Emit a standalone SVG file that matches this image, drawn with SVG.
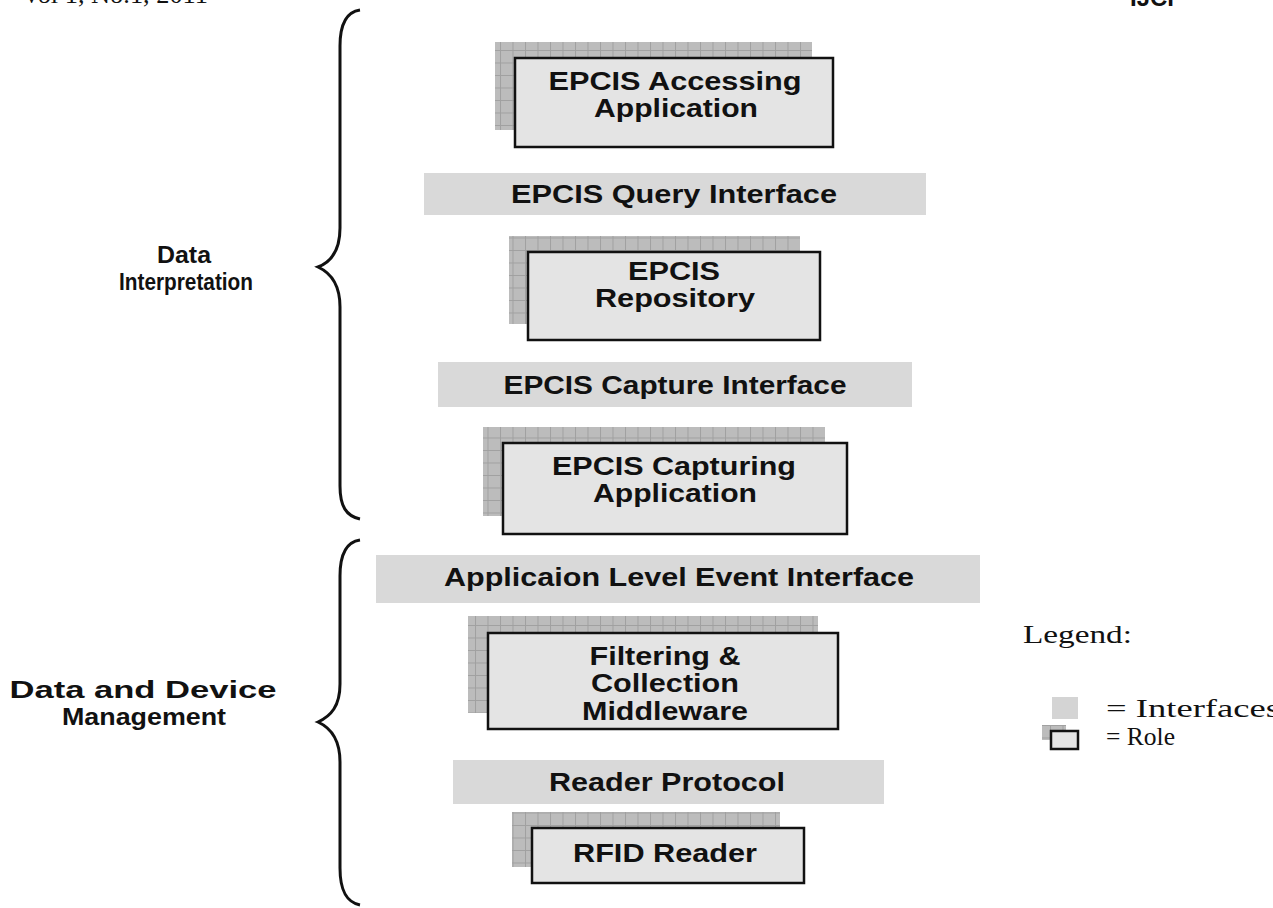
<svg xmlns="http://www.w3.org/2000/svg" width="1273" height="908" viewBox="0 0 1273 908">
<style>
.lbl{font-family:"Liberation Sans",Arial,sans-serif;font-weight:bold;font-size:25px;fill:#111;text-anchor:middle}
.side{font-family:"Liberation Sans",Arial,sans-serif;font-weight:bold;font-size:24px;fill:#111;text-anchor:middle}
.serif{font-family:"Liberation Serif","Times New Roman",serif;font-size:26px;fill:#111}
.iface{fill:#d9d9d9}
.front{fill:#e4e4e4;stroke:#111;stroke-width:2.5}
.shadow{fill:url(#grid)}
.brace{fill:none;stroke:#111;stroke-width:3}
</style>
<defs>
<pattern id="grid" width="12.5" height="12.5" patternUnits="userSpaceOnUse">
<rect width="12.5" height="12.5" fill="#bcbcbc"/>
<path d="M0,0.5 H12.5 M0.5,0 V12.5" stroke="#a0a0a0" stroke-width="1"/>
</pattern>
</defs>
<rect width="1273" height="908" fill="#fff"/>
<text class="serif" x="22" y="3" textLength="186" lengthAdjust="spacingAndGlyphs">Vol 1, No.1, 2011</text>
<text x="1130" y="6" style="font-family:'Liberation Sans',Arial,sans-serif;font-weight:bold;font-size:24px;fill:#111">IJCI</text>

<g id="braces">
<path class="brace" d="M360,10 C346,12 340,26 340,46 L340,228 C340,250 331,262 318,267 C331,273 340,285 340,307 L340,486 C340,506 346,516 360,519"/>
<path class="brace" d="M360,540 C346,542 340,556 340,576 L340,684 C340,706 331,716 318,722 C331,728 340,740 340,762 L340,868 C340,890 346,902 360,905"/>
</g>

<g id="label-data-interpretation">
<text class="side" x="184" y="263" textLength="54" lengthAdjust="spacingAndGlyphs">Data</text>
<text class="side" x="186" y="290" textLength="134" lengthAdjust="spacingAndGlyphs">Interpretation</text>
</g>
<g id="label-data-device">
<text class="side" x="143" y="698" textLength="267" lengthAdjust="spacingAndGlyphs">Data and Device</text>
<text class="side" x="144" y="725" textLength="164" lengthAdjust="spacingAndGlyphs">Management</text>
</g>

<g id="epcis-accessing-application">
<rect class="shadow" x="495" y="42" width="317" height="88"/>
<rect class="front" x="515" y="58" width="318" height="89"/>
<text class="lbl" x="675" y="90" textLength="253" lengthAdjust="spacingAndGlyphs">EPCIS Accessing</text>
<text class="lbl" x="676" y="117" textLength="164" lengthAdjust="spacingAndGlyphs">Application</text>
</g>

<g id="epcis-query-interface">
<rect class="iface" x="424" y="173" width="502" height="42"/>
<text class="lbl" x="674" y="203" textLength="326" lengthAdjust="spacingAndGlyphs">EPCIS Query Interface</text>
</g>

<g id="epcis-repository">
<rect class="shadow" x="509" y="236" width="291" height="88"/>
<rect class="front" x="528" y="252" width="292" height="88"/>
<text class="lbl" x="674" y="280" textLength="92" lengthAdjust="spacingAndGlyphs">EPCIS</text>
<text class="lbl" x="675" y="307" textLength="160" lengthAdjust="spacingAndGlyphs">Repository</text>
</g>

<g id="epcis-capture-interface">
<rect class="iface" x="438" y="362" width="474" height="45"/>
<text class="lbl" x="675" y="394" textLength="343" lengthAdjust="spacingAndGlyphs">EPCIS Capture Interface</text>
</g>

<g id="epcis-capturing-application">
<rect class="shadow" x="483" y="427" width="342" height="89"/>
<rect class="front" x="503" y="443" width="344" height="91"/>
<text class="lbl" x="674" y="475" textLength="244" lengthAdjust="spacingAndGlyphs">EPCIS Capturing</text>
<text class="lbl" x="675" y="502" textLength="164" lengthAdjust="spacingAndGlyphs">Application</text>
</g>

<g id="ale-interface">
<rect class="iface" x="376" y="555" width="604" height="48"/>
<text class="lbl" x="679" y="586" textLength="470" lengthAdjust="spacingAndGlyphs">Applicaion Level Event Interface</text>
</g>

<g id="filtering-collection-middleware">
<rect class="shadow" x="468" y="616" width="350" height="97"/>
<rect class="front" x="488" y="633" width="350" height="96"/>
<text class="lbl" x="665" y="665" textLength="151" lengthAdjust="spacingAndGlyphs">Filtering &amp;</text>
<text class="lbl" x="665" y="692" textLength="148" lengthAdjust="spacingAndGlyphs">Collection</text>
<text class="lbl" x="665" y="720" textLength="166" lengthAdjust="spacingAndGlyphs">Middleware</text>
</g>

<g id="reader-protocol">
<rect class="iface" x="453" y="760" width="431" height="44"/>
<text class="lbl" x="667" y="791" textLength="236" lengthAdjust="spacingAndGlyphs">Reader Protocol</text>
</g>

<g id="rfid-reader">
<rect class="shadow" x="512" y="812" width="268" height="55"/>
<rect class="front" x="532" y="828" width="272" height="55"/>
<text class="lbl" x="665" y="862" textLength="184" lengthAdjust="spacingAndGlyphs">RFID Reader</text>
</g>

<g id="legend">
<text class="serif" x="1023" y="643" textLength="109" lengthAdjust="spacingAndGlyphs">Legend:</text>
<rect x="1052" y="697" width="26" height="22" fill="#d4d4d4"/>
<text class="serif" x="1106" y="717" textLength="174" lengthAdjust="spacingAndGlyphs">= Interfaces</text>
<rect x="1042" y="725" width="24" height="15" fill="url(#grid)"/>
<rect x="1051" y="731" width="27" height="18" fill="#e4e4e4" stroke="#111" stroke-width="2.5"/>
<text class="serif" x="1106" y="745" textLength="69" lengthAdjust="spacingAndGlyphs">= Role</text>
</g>
</svg>
